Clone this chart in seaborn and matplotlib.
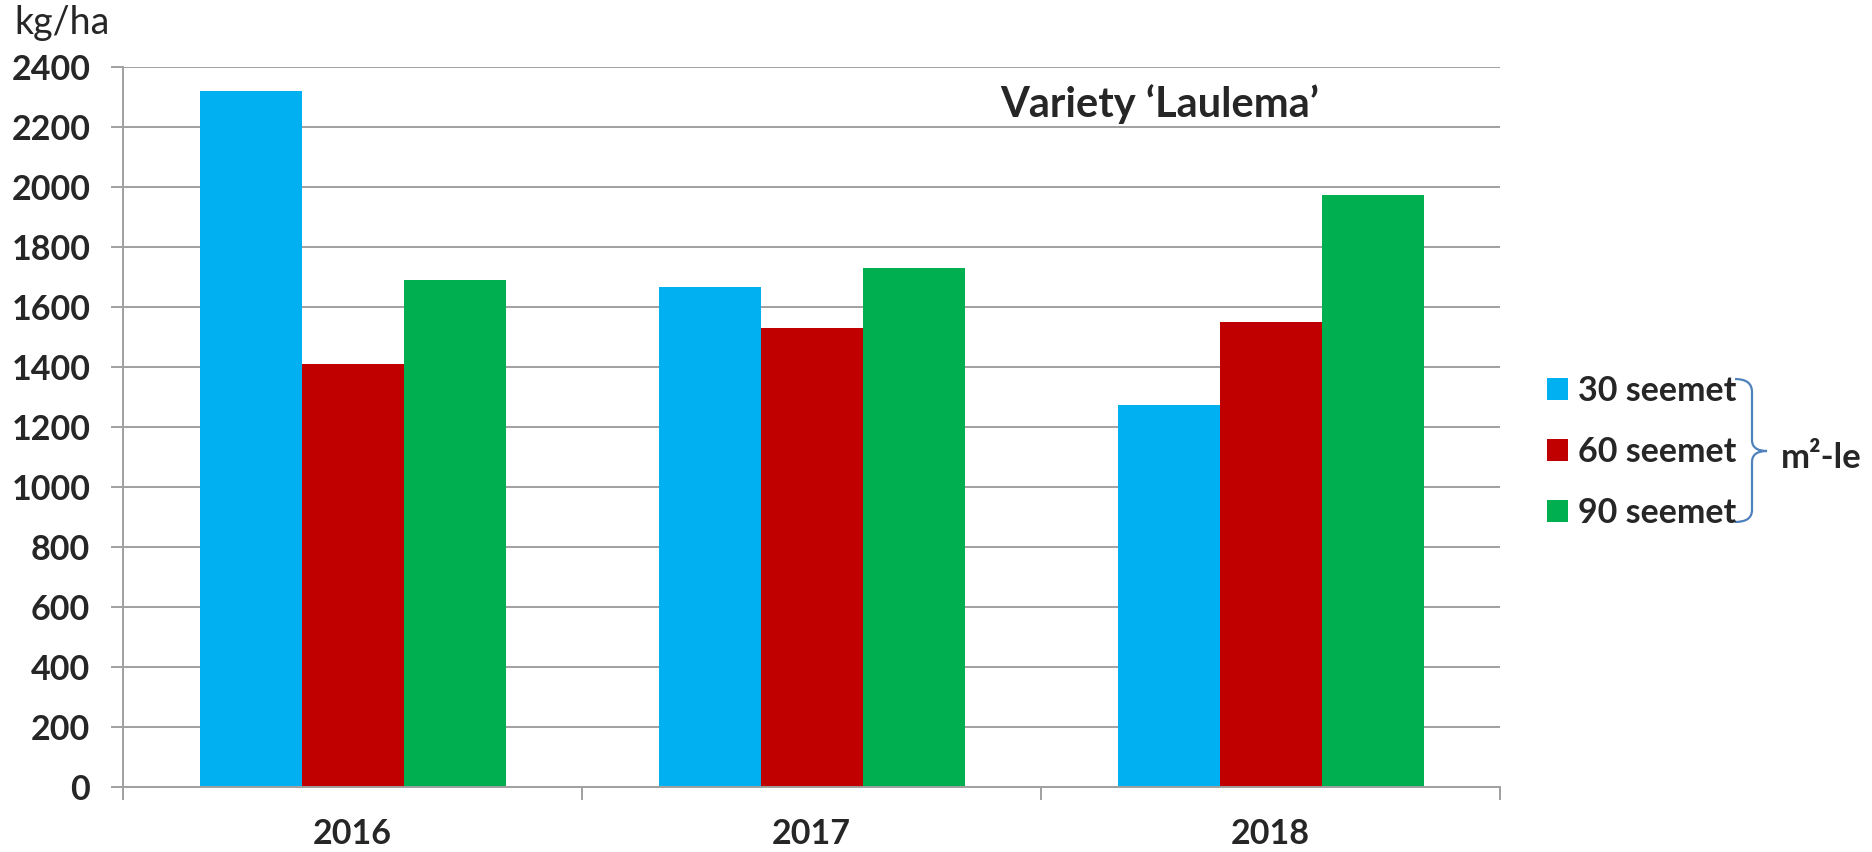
import numpy as np
import pandas as pd
import matplotlib
matplotlib.use("Agg")
import matplotlib.pyplot as plt
import seaborn as sns
from matplotlib.patches import Patch, PathPatch
from matplotlib.path import Path

# data (kg/ha)
years = ["2016", "2017", "2018"]
densities = ["30 seemet", "60 seemet", "90 seemet"]
yield_30 = [2320, 1667, 1272]
yield_60 = [1408, 1530, 1549]
yield_90 = [1689, 1728, 1974]
colors = ["#00B0F0", "#C00000", "#00B050"]
yticks = list(range(0, 2401, 200))

df = pd.DataFrame({
    "year": years * 3,
    "density": np.repeat(densities, 3),
    "kg": yield_30 + yield_60 + yield_90,
})

sns.set_style("white")
plt.rcParams["font.family"] = ["Lato", "DejaVu Sans"]

W, H = 1872, 852
fig = plt.figure(figsize=(W / 100, H / 100), dpi=100)
ax = fig.add_axes([123 / W, 1 - 787 / H, (1500 - 123) / W, (787 - 66.7) / H])

sns.barplot(data=df, x="year", y="kg", hue="density", palette=colors,
            width=2 / 3, gap=0, saturation=1, legend=False, ax=ax,
            edgecolor="none", linewidth=0)

grid_c = "#A0A0A0"
ax.set_ylim(0, 2400)
ax.set_xlim(-0.5, 2.5)
ax.set_yticks(yticks)
ax.set_yticklabels([str(v) for v in yticks], fontsize=24.5, fontweight="bold")
ax.yaxis.grid(True, color=grid_c, linewidth=1.4)
ax.set_axisbelow(True)
ax.tick_params(axis="y", direction="out", length=9, width=1.4, color=grid_c, pad=14.5, left=True)
ax.set_xticks([0, 1, 2])
ax.set_xticklabels(years, fontsize=24.5, fontweight="bold")
ax.set_xticks([-0.5, 0.5, 1.5, 2.5], minor=True)
ax.tick_params(axis="x", which="major", length=0, pad=22)
ax.tick_params(axis="x", which="minor", direction="out", length=9, width=1.4, color=grid_c, bottom=True)
ax.set_xlabel("")
ax.set_ylabel("")
for s in ["top", "right"]:
    ax.spines[s].set_visible(False)
for s in ["left", "bottom"]:
    ax.spines[s].set_color(grid_c)
    ax.spines[s].set_linewidth(1.4)

# unit label and title
fig.text(14 / W, 1 - 34 / H, "kg/ha", fontsize=27, va="baseline", ha="left")
fig.text(1160 / W, 1 - 117 / H, "Variety \u2018Laulema\u2019", fontsize=30,
         fontweight="bold", va="baseline", ha="center")

# legend
handles = [Patch(facecolor=c, edgecolor="none") for c in colors]
fig.legend(handles, densities, loc="center left",
           bbox_to_anchor=(1547 / W, 1 - 452 / H), frameon=False,
           borderpad=0, borderaxespad=0, handlelength=0.62, handleheight=0.62,
           handletextpad=0.3, labelspacing=0.86,
           prop={"size": 24.5, "weight": "bold"})

# curly brace
def fp(x, y):
    return (x / W, 1 - y / H)

verts = [fp(1735, 379), fp(1752, 379), fp(1752, 392),
         fp(1752, 440), fp(1752, 451), fp(1767, 451),
         fp(1752, 451), fp(1752, 462), fp(1752, 510),
         fp(1752, 522), fp(1735, 522)]
codes = [Path.MOVETO, Path.CURVE3, Path.CURVE3,
         Path.LINETO, Path.CURVE3, Path.CURVE3,
         Path.CURVE3, Path.CURVE3, Path.LINETO,
         Path.CURVE3, Path.CURVE3]
fig.add_artist(PathPatch(Path(verts, codes), facecolor="none",
                         edgecolor="#4F81BD", linewidth=1.6,
                         transform=fig.transFigure))
fig.text(1781 / W, 1 - 458 / H, "m\u00b2-le", fontsize=25, fontweight="bold",
         va="center", ha="left")

fig.savefig("out.png", dpi=100, facecolor="white")
